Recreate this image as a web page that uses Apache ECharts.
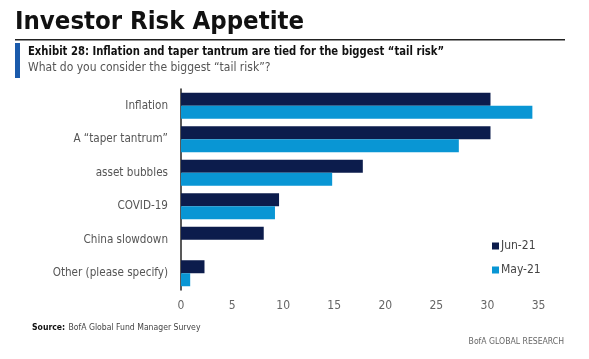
<!DOCTYPE html>
<html><head><meta charset="utf-8">
<script src="https://cdn.jsdelivr.net/npm/echarts@6/dist/echarts.min.js"></script>
<style>html,body{margin:0;padding:0;background:#fff}#c{width:589px;height:359px}</style>
</head><body><div id="c"></div>
<script>
const categories = ['Inflation', 'A \u201ctaper tantrum\u201d', 'asset bubbles', 'COVID-19', 'China slowdown', 'Other (please specify)'];
const jun21 = [30.3, 30.3, 17.8, 9.6, 8.1, 2.3];
const may21 = [34.4, 27.2, 14.8, 9.2, 0, 0.9];
const seriesNames = ['Jun-21', 'May-21'];
const xTicks = [0, 5, 10, 15, 20, 25, 30, 35];

const NARROW = "'Liberation Sans Narrow', 'DejaVu Sans Condensed', Roboto, sans-serif";
const chart = echarts.init(document.getElementById('c'), null, {renderer: 'canvas'});
chart.setOption({
  animation: false,
  backgroundColor: '#fff',
  grid: {left: 181, top: 89, width: 357.5, height: 201, containLabel: false},
  xAxis: {
    type: 'value', min: xTicks[0], max: xTicks[xTicks.length - 1], interval: 5,
    splitLine: {show: false}, axisLine: {show: false}, axisTick: {show: false},
    axisLabel: {color: '#666', fontSize: 12, fontFamily: NARROW, margin: 10}
  },
  yAxis: {
    type: 'category', data: categories, inverse: true,
    axisLine: {show: true, lineStyle: {color: '#222', width: 1.5}},
    axisTick: {show: false},
    axisLabel: {color: '#555', fontSize: 11.6, fontFamily: NARROW, margin: 13}
  },
  legend: {
    orient: 'vertical', left: 487, top: 235, itemWidth: 7, itemHeight: 7, itemGap: 12,
    icon: 'rect', textStyle: {color: '#444', fontSize: 12, fontFamily: NARROW, padding: [0, 0, 0, -3]},
    data: seriesNames
  },
  series: [
    {name: seriesNames[0], type: 'bar', data: jun21, barWidth: 13, barGap: '0%', itemStyle: {color: '#0c1c4c'}},
    {name: seriesNames[1], type: 'bar', data: may21, barWidth: 13, barGap: '0%', itemStyle: {color: '#0996d4'}}
  ],
  graphic: [
    {type: 'text', x: 15, y: 22.5, style: {text: 'Investor Risk Appetite', font: "bold 25.5px " + NARROW, fill: '#111', verticalAlign: 'middle'}},
    {type: 'rect', shape: {x: 15, y: 39, width: 550, height: 1.5}, style: {fill: '#222'}},
    {type: 'rect', shape: {x: 15, y: 43, width: 5, height: 35}, style: {fill: '#1a5aab'}},
    {type: 'text', x: 28, y: 52, scaleX: 0.86, style: {text: 'Exhibit 28: Inflation and taper tantrum are tied for the biggest \u201ctail risk\u201d', font: "bold 13px " + NARROW, fill: '#111', verticalAlign: 'middle'}},
    {type: 'text', x: 28, y: 68, style: {text: 'What do you consider the biggest \u201ctail risk\u201d?', font: "12px " + NARROW, fill: '#555', verticalAlign: 'middle'}},
    {type: 'text', x: 32, y: 328, style: {rich: {b: {font: "bold 8.6px " + NARROW, fill: '#111'}, n: {font: "8.6px " + NARROW, fill: '#444'}}, text: '{b|Source:} {n|BofA Global Fund Manager Survey}', verticalAlign: 'middle'}},
    {type: 'text', x: 564, y: 342, style: {text: 'BofA GLOBAL RESEARCH', font: "8.6px " + NARROW, fill: '#666', align: 'right', verticalAlign: 'middle'}}
  ]
});
</script></body></html>
